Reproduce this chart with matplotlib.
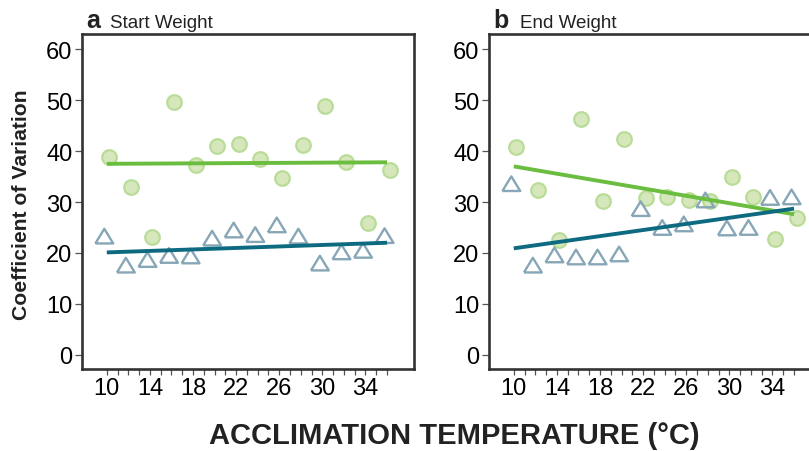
import matplotlib
matplotlib.use("Agg")
import matplotlib.pyplot as plt
import numpy as np

plt.rcParams['font.family'] = ['Liberation Sans', 'DejaVu Sans']

temps = [10, 12, 14, 16, 18, 20, 22, 24, 26, 28, 30, 32, 34, 36]

start_circle = [38.9, 33.0, 23.2, 49.7, 37.2, 41.0, 41.4, 38.4, 34.7, 41.2, 48.9, 37.9, 25.9, 36.2]
start_triangle = [23.3, 17.6, 18.7, 19.5, 19.4, 22.9, 24.5, 23.6, 25.5, 23.3, 18.0, 20.2, 20.5, 23.4]
end_circle = [40.9, 32.4, 22.6, 46.3, 30.2, 42.3, 30.8, 31.0, 30.4, 30.2, 35.0, 31.0, 22.8, 26.8]
end_triangle = [33.6, 17.6, 19.6, 19.2, 19.2, 19.8, 28.7, 25.0, 25.7, 30.4, 24.9, 25.0, 30.9, 31.0]

fit_x = [10, 36]
start_fit_circle = [37.5, 37.8]
start_fit_triangle = [20.1, 22.0]
end_fit_circle = [37.0, 27.6]
end_fit_triangle = [20.9, 28.7]

yticks = [0, 10, 20, 30, 40, 50, 60]
xticks = [10, 14, 18, 22, 26, 30, 34]

panels = [
    ("a", "Start Weight", start_circle, start_triangle, start_fit_circle, start_fit_triangle),
    ("b", "End Weight", end_circle, end_triangle, end_fit_circle, end_fit_triangle),
]

W, H = 809, 452
fig = plt.figure(figsize=(W / 100, H / 100), dpi=100)

tri = [(-1, -0.82), (1, -0.82), (0, 0.82), (-1, -0.82)]
circ_face = '#d6e8bb'
circ_edge = '#b9dc98'
tri_edge = '#87a6b6'
green_line = '#6abd3e'
teal_line = '#0e6a80'
spine_col = '#333333'

lefts = [82, 489]
for i, (letter, title, circ, trian, fc, ft) in enumerate(panels):
    left = lefts[i]
    ax = fig.add_axes([left / W, 1 - 370 / H, 332 / W, 335 / H])
    t = np.array(temps, dtype=float)
    ax.scatter(t + 0.23, circ, s=110, marker='o', facecolor=circ_face,
               edgecolor=circ_edge, linewidth=1.6, zorder=3)
    ax.scatter(t - 0.23, trian, s=165, marker=tri, facecolor='none',
               edgecolor=tri_edge, linewidth=1.7, zorder=3)
    ax.plot(fit_x, fc, color=green_line, lw=2.8, zorder=4, solid_capstyle='butt')
    ax.plot(fit_x, ft, color=teal_line, lw=2.8, zorder=4, solid_capstyle='butt')
    ax.set_xlim(7.7, 38.5)
    ax.set_ylim(-2.8, 63)
    ax.set_yticks(yticks)
    ax.set_xticks(xticks)
    ax.set_xticks(np.arange(10, 37, 1), minor=True)
    ax.tick_params(axis='both', which='both', direction='out', length=4, width=0.9,
                   color='#555555', labelsize=17, pad=2)
    ax.tick_params(axis='y', length=5)
    for sp in ax.spines.values():
        sp.set_linewidth(1.9)
        sp.set_color(spine_col)
    fig.text((left + 4) / W, 1 - 28 / H, letter, fontsize=18, fontweight='bold',
             color='#222222', ha='left', va='baseline')
    fig.text((left + 28 + (3 if i else 0)) / W, 1 - 28 / H, title, fontsize=13.5,
             color='#222222', ha='left', va='baseline')

fig.text(22 / W, 1 - 205 / H, "Coefficient of Variation", rotation=90, fontsize=15.2,
         fontweight='bold', color='#222222', ha='center', va='center')
fig.text(454 / W, 1 - 436 / H, "ACCLIMATION TEMPERATURE (°C)", fontsize=21,
         fontweight='bold', color='#222222', ha='center', va='center')

fig.savefig("out.png", dpi=100)
